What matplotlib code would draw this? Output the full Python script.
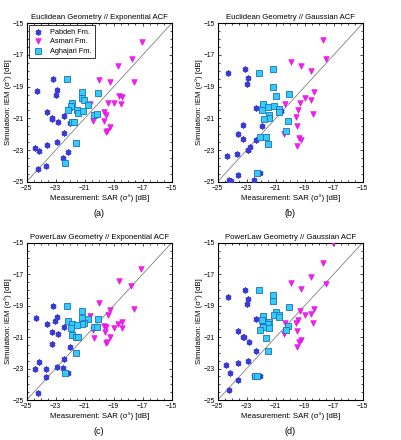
import matplotlib
matplotlib.use("Agg")
import matplotlib.pyplot as plt
from matplotlib.ticker import MultipleLocator

plt.rcParams['font.family'] = ['Liberation Sans', 'DejaVu Sans']

titles = ["Euclidean Geometry // Exponential ACF", "Euclidean Geometry // Gaussian ACF",
          "PowerLaw Geometry // Exponential ACF", "PowerLaw Geometry // Gaussian ACF"]
panel_labels = ["(a)", "(b)", "(c)", "(d)"]
series_names = ["Pabdeh Fm.", "Asmari Fm.", "Aghajari Fm."]

# Panel (a)
a_pab_x = [-23.16, -24.31, -22.93, -23.0, -22.01, -23.6, -23.28, -23.26, -22.43, -22.82, -22.01, -22.43, -22.93, -23.62, -24.45, -24.15, -22.13, -22.47, -23.64, -24.24]
a_pab_y = [-18.52, -19.25, -19.21, -19.55, -20.33, -20.6, -21.0, -21.04, -20.85, -21.21, -21.27, -21.95, -22.47, -22.66, -22.85, -23.04, -23.13, -23.51, -24.01, -24.18]
a_asm_x = [-17.07, -17.76, -18.68, -19.99, -19.25, -17.57, -18.61, -18.43, -19.37, -19.0, -18.47, -20.63, -19.67, -19.53, -20.43, -19.64, -19.25, -19.48, -19.53]
a_asm_y = [-16.16, -17.25, -17.72, -18.58, -18.68, -18.71, -19.61, -19.63, -20.05, -20.01, -20.07, -20.12, -20.6, -20.79, -21.15, -21.15, -21.55, -21.8, -21.88]
a_agh_x = [-22.2, -21.21, -20.1, -21.21, -21.02, -21.9, -21.97, -20.75, -22.13, -21.55, -21.44, -21.14, -20.33, -20.17, -21.85, -21.71, -21.57, -22.38]
a_agh_y = [-18.52, -19.34, -19.4, -19.74, -19.84, -20.03, -20.22, -20.16, -20.45, -20.47, -20.68, -20.56, -20.77, -20.73, -21.25, -21.25, -22.54, -23.84]

# Panel (b)
b_pab_x = [-24.29, -23.14, -22.89, -23.0, -22.38, -21.97, -23.23, -21.97, -23.57, -23.23, -22.36, -22.77, -22.89, -22.93, -24.38, -23.64, -23.62, -24.2, -24.1, -22.47, -22.08, -20.65]
b_pab_y = [-18.12, -17.91, -18.45, -18.81, -20.37, -20.26, -21.4, -21.46, -22.01, -22.28, -22.37, -22.83, -23.0, -23.02, -23.4, -23.27, -24.6, -24.89, -24.94, -24.92, -24.45, -20.55]
b_asm_x = [-17.71, -17.53, -19.97, -19.23, -18.56, -18.38, -18.95, -18.56, -19.32, -20.36, -19.48, -18.4, -19.62, -19.55, -20.43, -19.41, -19.23, -19.55]
b_asm_y = [-16.05, -17.23, -17.42, -17.72, -17.99, -19.36, -19.72, -19.84, -20.05, -20.09, -20.49, -20.73, -20.94, -21.48, -21.99, -22.24, -22.37, -22.73]
b_agh_x = [-21.16, -22.17, -21.16, -20.06, -20.98, -21.85, -21.92, -21.55, -21.11, -20.75, -20.77, -21.46, -21.46, -21.78, -20.13, -20.26, -22.08, -21.67, -21.53, -22.31]
b_agh_y = [-17.91, -18.14, -19.02, -19.48, -19.59, -20.09, -20.47, -20.31, -20.24, -20.43, -20.62, -20.81, -21.0, -21.06, -21.19, -21.8, -22.16, -22.2, -22.64, -24.45]

# Panel (c)
c_pab_x = [-23.17, -24.36, -22.94, -23.05, -23.58, -22.43, -23.28, -22.82, -22.02, -23.28, -22.43, -24.13, -22.94, -24.43, -23.67, -22.52, -22.17, -23.67, -24.24]
c_pab_y = [-19.03, -19.79, -19.7, -19.96, -20.19, -20.38, -20.66, -20.81, -21.63, -21.42, -22.37, -22.58, -22.92, -23.03, -23.05, -22.94, -23.31, -23.56, -24.56]
c_asm_x = [-17.09, -18.65, -17.78, -20.0, -19.27, -17.59, -19.38, -20.64, -18.46, -18.67, -20.46, -19.7, -19.54, -18.97, -18.46, -19.59, -20.34, -19.27, -19.54, -19.45]
c_asm_y = [-16.65, -17.42, -17.73, -18.86, -19.28, -19.24, -19.6, -19.66, -20.02, -20.15, -20.57, -20.3, -20.34, -20.44, -20.44, -20.67, -21.09, -21.0, -21.38, -21.32]
c_agh_x = [-22.2, -21.21, -21.21, -20.1, -22.13, -20.75, -21.02, -21.9, -21.21, -21.51, -21.97, -20.33, -20.17, -21.85, -21.6, -21.49, -21.57, -22.38]
c_agh_y = [-19.03, -19.36, -19.77, -19.83, -19.96, -19.83, -20.08, -20.17, -20.15, -20.23, -20.44, -20.34, -20.36, -20.85, -21.0, -20.97, -21.99, -23.31]

# Panel (d)
d_pab_x = [-24.26, -23.14, -22.89, -23.0, -22.38, -21.97, -23.57, -23.23, -23.2, -22.82, -22.38, -22.93, -23.62, -24.43, -24.13, -22.47, -22.08, -23.62, -24.2]
d_pab_y = [-18.47, -18.0, -18.6, -18.9, -19.87, -20.23, -20.61, -20.97, -21.0, -21.31, -21.91, -22.54, -22.67, -22.78, -23.28, -23.45, -23.47, -23.73, -24.34]
d_asm_x = [-17.07, -17.71, -18.56, -19.97, -17.53, -19.23, -19.32, -18.38, -18.56, -18.95, -19.48, -19.62, -20.36, -18.4, -19.55, -20.43, -19.23, -19.41, -19.55]
d_asm_y = [-15.04, -16.27, -17.16, -17.56, -17.63, -17.97, -19.32, -19.24, -19.53, -19.6, -19.89, -20.08, -20.13, -20.08, -20.61, -20.82, -21.21, -21.29, -21.61]
d_agh_x = [-22.17, -21.16, -21.16, -20.06, -20.98, -21.85, -21.11, -20.75, -20.75, -21.92, -21.46, -21.55, -21.85, -21.44, -22.08, -20.13, -20.26, -21.67, -21.53, -22.4, -22.26]
d_agh_y = [-18.0, -18.3, -18.72, -19.07, -19.39, -19.66, -19.6, -19.58, -19.7, -19.92, -20.02, -20.15, -20.36, -20.44, -20.57, -20.3, -20.53, -21.04, -21.89, -23.45, -23.47]

panels = [
    (a_pab_x, a_pab_y, a_asm_x, a_asm_y, a_agh_x, a_agh_y),
    (b_pab_x, b_pab_y, b_asm_x, b_asm_y, b_agh_x, b_agh_y),
    (c_pab_x, c_pab_y, c_asm_x, c_asm_y, c_agh_x, c_agh_y),
    (d_pab_x, d_pab_y, d_asm_x, d_asm_y, d_agh_x, d_agh_y),
]

ticks = [-25, -23, -21, -19, -17, -15]

fig = plt.figure(figsize=(4.01, 4.40), dpi=100)
W, H = 401.0, 440.0
boxes = [(26.7, 23.3, 171.7, 181.7), (217.7, 23.3, 362.7, 181.7),
         (26.7, 242.7, 171.7, 400.0), (217.7, 242.7, 362.7, 400.0)]

fs = 5.3
for i, (box, data) in enumerate(zip(boxes, panels)):
    l, t, r, b = box
    ax = fig.add_axes([l / W, 1 - b / H, (r - l) / W, (b - t) / H])
    px, py, ax_, ay, gx, gy = data
    ax.plot([-25, -15], [-25, -15], color='#808080', lw=0.6, zorder=1)
    ax.scatter(px, py, marker=(6, 2, 0), s=9, color='#3a3ad8', linewidths=1.4, zorder=3, label=series_names[0])
    ax.scatter(ax_, ay, marker='v', s=16, color='#f020f0', edgecolors='#e000e0', linewidths=0.4, zorder=3, label=series_names[1])
    ax.scatter(gx, gy, marker='s', s=16, facecolor='#33ccf5', edgecolors='#2070c0', linewidths=0.6, zorder=4, label=series_names[2])
    ax.set_xlim(-25, -15)
    ax.set_ylim(-25, -15)
    ax.set_xticks(ticks)
    ax.set_yticks(ticks)
    ax.xaxis.set_minor_locator(MultipleLocator(0.5))
    ax.yaxis.set_minor_locator(MultipleLocator(0.5))
    ax.tick_params(which='both', direction='in', top=True, right=True, labelsize=4.8, width=0.5)
    ax.tick_params(axis='x', pad=2.2)
    ax.tick_params(axis='y', pad=1.8)
    ax.tick_params(which='major', length=2.5)
    ax.tick_params(which='minor', length=1.2)
    for sp in ax.spines.values():
        sp.set_linewidth(0.8)
    ax.set_title(titles[i], fontsize=fs + 0.3, pad=3)
    ax.set_xlabel("Measurement: SAR (σ°) [dB]", fontsize=fs + 0.3, labelpad=1.5)
    ax.set_ylabel("Simulation: IEM (σ°) [dB]", fontsize=fs + 0.3, labelpad=0.8)
    ax.text(0.5, -0.198, panel_labels[i], transform=ax.transAxes, ha='center', va='center', fontsize=6.5)
    if i == 0:
        leg = ax.legend(loc='upper left', fontsize=fs, frameon=True, fancybox=False, edgecolor='black',
                        borderpad=0.45, handletextpad=0.9, labelspacing=0.35, borderaxespad=0.25,
                        handlelength=1.6)
        leg.get_frame().set_linewidth(0.7)

fig.savefig("out.png", dpi=100)
